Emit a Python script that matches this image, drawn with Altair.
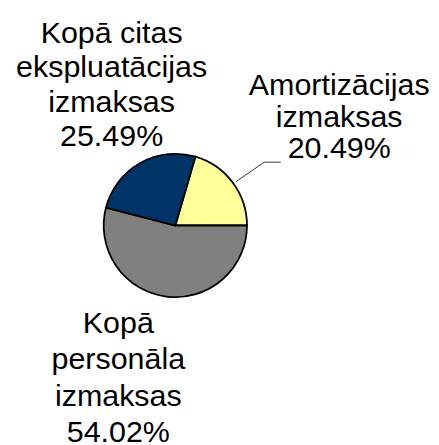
import math
import altair as alt
import pandas as pd

# ---- data ----
categories = ["Amortizācijas\nizmaksas",
              "Kopā\npersonāla\nizmaksas",
              "Kopā citas\nekspluatācijas\nizmaksas"]
shares = [20.49, 54.02, 25.49]
colors = ["#FFFF99", "#808080", "#003366"]

labels = [f"{c}\n{s:.2f}%" for c, s in zip(categories, shares)]
df = pd.DataFrame({"cat": categories, "share": shares, "label": labels,
                   "idx": list(range(len(categories)))})

total = sum(shares)
# first slice ends exactly at 3 o'clock
start = math.pi / 2 - 2 * math.pi * shares[0] / total
theta_scale = alt.Scale(domain=[0, total], range=[start, start + 2 * math.pi])

pie = alt.Chart(df).mark_arc(outerRadius=73, stroke="black", strokeWidth=1.8).encode(
    theta=alt.Theta("share:Q", stack=True, scale=theta_scale),
    order=alt.Order("idx:Q"),
    color=alt.Color("cat:N", scale=alt.Scale(domain=categories, range=colors), legend=None),
)

FONT = "Liberation Sans"

text_base = alt.Chart(df).transform_window(
    cum="sum(share)", sort=[alt.SortField("idx")], frame=[None, 0]
).transform_calculate(mid="datum.cum - datum.share / 2")


def label_layer(i, radius, dx, dy, lh):
    return text_base.transform_filter(alt.datum.idx == i).mark_text(
        radius=radius, dx=dx, dy=dy, font=FONT, fontSize=31, color="black",
        align="center", baseline="top", lineBreak="\n", lineHeight=lh,
    ).encode(
        theta=alt.Theta("mid:Q", stack=None, scale=theta_scale),
        text="label:N",
    )


t_right = label_layer(0, 200, 7, -36.5, 32)
t_bottom = label_layer(1, 100, -45.5, -13.5, 37)
t_left = label_layer(2, 200, 34, -36, 35)

one = alt.Chart(pd.DataFrame({"k": [0]}))
lead1 = one.mark_rule(color="#333333", strokeWidth=1).encode(
    x=alt.value(232), y=alt.value(173), x2=alt.value(261), y2=alt.value(153))
lead2 = one.mark_rule(color="#333333", strokeWidth=1).encode(
    x=alt.value(261), y=alt.value(153), x2=alt.value(278), y2=alt.value(153))

chart = alt.layer(pie, lead1, lead2, t_right, t_bottom, t_left).properties(
    width=341, height=435,
    autosize=alt.AutoSizeParams(type="none"),
    padding={"left": 0, "top": 0, "right": 90, "bottom": 0},
).configure_view(stroke=None)

chart.save("out.html", embed_options={"renderer": "svg", "actions": False})
